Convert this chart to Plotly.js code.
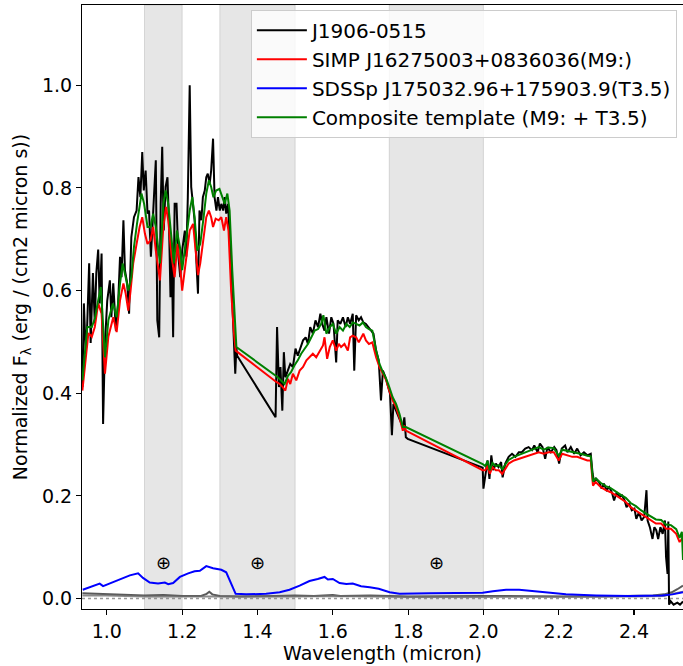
<!DOCTYPE html>
<html>
<head>
<meta charset="utf-8">
<script src="https://cdn.plot.ly/plotly-3.0.1.min.js"></script>
<style>html,body{margin:0;padding:0;background:#fff;}#chart{width:683px;height:666px;}</style>
</head>
<body>
<div id="chart"></div>
<script>
// J1906-0515 observed spectrum (black)
const objWave = [0.935,0.939,0.944,0.948,0.953,0.957,0.963,0.968,0.972,0.977,0.981,0.986,0.990,0.995,1.001,1.008,1.012,1.017,1.024,1.030,1.035,1.039,1.044,1.048,1.054,1.059,1.065,1.072,1.079,1.084,1.089,1.094,1.098,1.103,1.108,1.112,1.117,1.121,1.124,1.130,1.134,1.139,1.143,1.147,1.151,1.156,1.161,1.165,1.169,1.172,1.176,1.180,1.185,1.190,1.195,1.200,1.207,1.211,1.215,1.220,1.224,1.229,1.233,1.238,1.242,1.246,1.251,1.255,1.260,1.264,1.268,1.273,1.277,1.282,1.286,1.291,1.295,1.300,1.304,1.309,1.313,1.317,1.322,1.326,1.330,1.335,1.338,1.341,1.344,1.346,
1.448,1.452,1.457,1.461,1.466,1.470,1.474,1.481,1.487,1.494,1.501,1.507,1.514,1.521,1.528,1.534,1.540,1.547,1.554,1.561,1.567,1.572,1.578,1.583,1.590,1.596,1.602,1.609,1.613,1.620,1.627,1.634,1.640,1.646,1.653,1.657,1.662,1.669,1.675,1.681,1.688,1.695,1.702,1.708,1.715,1.722,1.728,1.733,1.740,1.746,1.752,1.757,1.761,1.768,1.775,1.781,1.786,1.790,1.794,1.799,
1.998,2.000,2.005,2.011,2.016,2.021,2.026,2.033,2.040,2.047,2.051,2.058,2.067,2.076,2.085,2.094,2.102,2.111,2.120,2.129,2.135,2.144,2.150,2.157,2.164,2.170,2.179,2.188,2.194,2.201,2.208,2.217,2.223,2.232,2.241,2.249,2.258,2.267,2.276,2.285,2.290,2.294,2.300,2.307,2.314,2.320,2.327,2.334,2.341,2.347,2.354,2.361,2.368,2.375,2.380,2.387,2.394,2.401,2.406,2.413,2.420,2.427,2.433,2.436,2.442,2.449,2.454,2.459,2.464,2.470,2.476,2.482,2.485,2.489,2.491,2.493,2.497,2.505,2.515,2.522,2.530];
const objFlux = [0.412,0.575,0.477,0.536,0.653,0.498,0.634,0.536,0.634,0.680,0.575,0.672,0.340,0.498,0.580,0.620,0.548,0.614,0.522,0.575,0.666,0.626,0.737,0.640,0.614,0.555,0.704,0.743,0.756,0.821,0.782,0.870,0.795,0.834,0.750,0.756,0.666,0.717,0.756,0.854,0.542,0.509,0.769,0.880,0.717,0.802,0.821,0.730,0.587,0.691,0.509,0.769,0.769,0.666,0.626,0.678,0.717,0.666,0.782,1.000,0.802,0.769,0.737,0.653,0.594,0.756,0.737,0.782,0.795,0.821,0.828,0.808,0.834,0.896,0.782,0.756,0.782,0.756,0.769,0.756,0.782,0.750,0.769,0.704,0.626,0.536,0.503,0.438,0.490,0.473,
0.353,0.529,0.412,0.451,0.366,0.480,0.431,0.444,0.457,0.451,0.487,0.473,0.490,0.503,0.509,0.496,0.529,0.516,0.542,0.529,0.555,0.535,0.522,0.548,0.516,0.548,0.535,0.460,0.542,0.535,0.548,0.529,0.548,0.535,0.555,0.444,0.552,0.542,0.548,0.538,0.535,0.529,0.522,0.516,0.483,0.464,0.386,0.444,0.431,0.412,0.399,0.318,0.379,0.366,0.353,0.340,0.334,0.353,0.314,0.311,
0.255,0.214,0.243,0.269,0.233,0.279,0.250,0.263,0.256,0.266,0.236,0.263,0.276,0.282,0.276,0.285,0.285,0.292,0.295,0.289,0.298,0.285,0.302,0.295,0.272,0.295,0.285,0.295,0.289,0.263,0.292,0.298,0.285,0.295,0.282,0.292,0.279,0.285,0.279,0.282,0.243,0.227,0.233,0.227,0.214,0.224,0.211,0.217,0.207,0.191,0.207,0.198,0.201,0.191,0.178,0.185,0.172,0.175,0.155,0.168,0.152,0.159,0.211,0.152,0.139,0.116,0.139,0.133,0.116,0.139,0.126,0.152,0.081,0.048,0.150,-0.012,-0.005,-0.012,-0.008,-0.012,-0.006];

// SIMP J16275003+0836036 (M9:) template (red)
const m9Wave = [0.935,0.951,0.960,0.968,0.977,0.986,0.995,1.004,1.017,1.026,1.035,1.044,1.050,1.057,1.063,1.070,1.079,1.087,1.094,1.101,1.108,1.116,1.123,1.130,1.141,1.150,1.157,1.163,1.172,1.180,1.187,1.194,1.200,1.209,1.220,1.229,1.236,1.242,1.248,1.257,1.264,1.271,1.277,1.282,1.289,1.297,1.304,1.311,1.317,1.323,1.330,1.337,1.342,
1.450,1.459,1.467,1.474,1.481,1.487,1.494,1.503,1.512,1.521,1.530,1.539,1.547,1.556,1.565,1.574,1.578,1.585,1.592,1.600,1.609,1.616,1.622,1.631,1.640,1.646,1.653,1.662,1.669,1.675,1.681,1.688,1.696,1.705,1.715,1.724,1.733,1.742,1.750,1.759,1.768,1.777,1.786,1.790,1.794,
1.998,2.005,2.011,2.017,2.024,2.033,2.041,2.050,2.059,2.067,2.081,2.094,2.107,2.120,2.134,2.147,2.160,2.173,2.187,2.200,2.209,2.223,2.236,2.249,2.263,2.276,2.285,2.291,2.298,2.312,2.325,2.338,2.352,2.365,2.378,2.391,2.405,2.418,2.431,2.445,2.458,2.472,2.485,2.498,2.512,2.521,2.530];
const m9Flux = [0.405,0.517,0.510,0.529,0.575,0.555,0.438,0.510,0.548,0.519,0.581,0.614,0.594,0.561,0.600,0.653,0.691,0.724,0.743,0.711,0.691,0.698,0.724,0.678,0.620,0.724,0.763,0.737,0.666,0.626,0.691,0.653,0.600,0.653,0.717,0.730,0.678,0.630,0.653,0.704,0.743,0.756,0.743,0.724,0.740,0.737,0.743,0.717,0.743,0.717,0.600,0.522,0.483,
0.422,0.418,0.412,0.405,0.428,0.418,0.438,0.425,0.444,0.451,0.464,0.470,0.477,0.470,0.483,0.493,0.509,0.467,0.490,0.503,0.483,0.496,0.490,0.496,0.483,0.509,0.512,0.509,0.499,0.509,0.516,0.503,0.496,0.499,0.470,0.451,0.438,0.425,0.405,0.386,0.373,0.353,0.327,0.337,0.327,
0.250,0.250,0.259,0.243,0.256,0.250,0.250,0.243,0.253,0.263,0.269,0.272,0.276,0.279,0.282,0.285,0.282,0.285,0.285,0.269,0.282,0.279,0.276,0.276,0.272,0.269,0.269,0.220,0.227,0.217,0.211,0.207,0.201,0.194,0.188,0.178,0.172,0.165,0.159,0.152,0.146,0.146,0.136,0.136,0.126,0.110,0.119];

// SDSSp J175032.96+175903.9 (T3.5) template (blue)
const t35Wave = [0.936,0.964,0.981,0.990,1.017,1.043,1.061,1.083,1.096,1.114,1.136,1.154,1.163,1.176,1.194,1.216,1.233,1.247,1.264,1.282,1.304,1.317,1.330,1.342,1.370,1.423,1.459,1.485,1.512,1.538,1.560,1.578,1.587,1.600,1.618,1.636,1.653,1.675,1.698,1.722,1.751,1.777,1.857,1.998,2.025,2.060,2.095,2.140,2.184,2.219,2.299,2.387,2.475,2.502,2.530];
const t35Flux = [0.017,0.025,0.029,0.024,0.032,0.040,0.045,0.049,0.040,0.031,0.029,0.031,0.028,0.030,0.042,0.049,0.053,0.054,0.063,0.059,0.056,0.051,0.029,0.009,0.008,0.009,0.012,0.017,0.025,0.034,0.038,0.042,0.037,0.038,0.030,0.028,0.029,0.024,0.022,0.019,0.012,0.009,0.010,0.011,0.014,0.017,0.017,0.014,0.010,0.008,0.006,0.005,0.006,0.008,0.012];

// Composite template (M9: + T3.5) (green)
const compWave = [0.935,0.948,0.960,0.968,0.977,0.984,0.995,1.004,1.016,1.026,1.035,1.042,1.050,1.057,1.065,1.072,1.080,1.087,1.092,1.099,1.108,1.116,1.123,1.130,1.141,1.150,1.156,1.163,1.172,1.178,1.186,1.194,1.200,1.209,1.220,1.227,1.233,1.240,1.248,1.257,1.264,1.271,1.277,1.283,1.290,1.299,1.306,1.313,1.320,1.326,1.333,1.339,1.344,
1.454,1.463,1.472,1.481,1.489,1.498,1.507,1.516,1.525,1.534,1.543,1.552,1.561,1.569,1.575,1.583,1.592,1.600,1.609,1.618,1.627,1.636,1.645,1.653,1.662,1.671,1.680,1.688,1.696,1.705,1.715,1.724,1.733,1.742,1.750,1.759,1.768,1.777,1.786,1.794,
1.998,2.005,2.011,2.017,2.024,2.033,2.041,2.050,2.059,2.067,2.081,2.094,2.107,2.120,2.134,2.147,2.160,2.173,2.187,2.200,2.209,2.223,2.236,2.249,2.263,2.276,2.285,2.291,2.298,2.312,2.325,2.338,2.352,2.365,2.378,2.391,2.405,2.418,2.431,2.445,2.458,2.472,2.485,2.498,2.512,2.521,2.527,2.530];
const compFlux = [0.425,0.529,0.529,0.545,0.581,0.607,0.470,0.542,0.575,0.548,0.614,0.653,0.626,0.600,0.626,0.685,0.730,0.769,0.789,0.769,0.724,0.724,0.750,0.724,0.653,0.769,0.795,0.769,0.698,0.653,0.717,0.685,0.640,0.691,0.756,0.782,0.743,0.678,0.691,0.743,0.789,0.815,0.802,0.782,0.795,0.798,0.782,0.769,0.789,0.756,0.640,0.542,0.490,
0.431,0.425,0.418,0.434,0.441,0.454,0.464,0.477,0.487,0.496,0.509,0.522,0.525,0.535,0.552,0.516,0.529,0.535,0.516,0.529,0.522,0.535,0.529,0.538,0.535,0.532,0.538,0.529,0.525,0.522,0.483,0.457,0.441,0.428,0.412,0.392,0.379,0.360,0.334,0.334,
0.262,0.258,0.268,0.250,0.264,0.258,0.260,0.252,0.262,0.270,0.276,0.280,0.284,0.288,0.292,0.295,0.290,0.294,0.293,0.278,0.290,0.288,0.285,0.284,0.281,0.278,0.277,0.228,0.234,0.225,0.219,0.215,0.209,0.202,0.196,0.186,0.180,0.172,0.166,0.160,0.154,0.153,0.144,0.143,0.135,0.118,0.130,0.075];

// uncertainty curves (grey)
const errWaveA = [0.935,0.970,1.000,1.050,1.100,1.150,1.200,1.250,1.265,1.272,1.280,1.300,1.350,1.450,1.500,1.550,1.600,1.620,1.700,1.750,1.800,2.000,2.100,2.200,2.300,2.400,2.450,2.480,2.500,2.515,2.530];
const errFluxA = [0.010,0.009,0.008,0.007,0.006,0.007,0.005,0.005,0.009,0.013,0.008,0.005,0.004,0.005,0.006,0.005,0.007,0.005,0.006,0.005,0.004,0.005,0.004,0.004,0.004,0.005,0.006,0.008,0.012,0.018,0.025];
const errWaveB = [0.935,1.000,1.100,1.200,1.300,1.400,1.500,1.600,1.700,1.800,2.000,2.200,2.400,2.480,2.500,2.530];
const errFluxB = [0.006,0.006,0.004,0.004,0.004,0.003,0.004,0.005,0.004,0.003,0.003,0.003,0.004,0.005,0.009,0.013];

// telluric bands and their markers
const bandStart = [1.10, 1.30, 1.75];
const bandEnd = [1.20, 1.50, 2.00];
const markerX = [1.15, 1.40, 1.875];
const markerY = 0.07;

const names = ['J1906-0515','SIMP J16275003+0836036(M9:)','SDSSp J175032.96+175903.9(T3.5)','Composite template (M9: + T3.5)'];

const FONT = 'DejaVu Sans, sans-serif';

const traces = [
  {x: errWaveA, y: errFluxA, mode:'lines', line:{color:'rgba(60,60,60,0.85)', width:2}, showlegend:false, hoverinfo:'skip'},
  {x: errWaveB, y: errFluxB, mode:'lines', line:{color:'rgba(110,110,110,0.8)', width:2}, showlegend:false, hoverinfo:'skip'},
  {x: objWave, y: objFlux, mode:'lines', name:names[0], line:{color:'#000000', width:2}},
  {x: m9Wave, y: m9Flux, mode:'lines', name:names[1], line:{color:'#ff0000', width:2}},
  {x: t35Wave, y: t35Flux, mode:'lines', name:names[2], line:{color:'#0000ff', width:2}},
  {x: compWave, y: compFlux, mode:'lines', name:names[3], line:{color:'#008000', width:2}}
];

const shapes = bandStart.map((s,i)=>({type:'rect', xref:'x', yref:'paper', x0:s, x1:bandEnd[i], y0:0, y1:1,
  fillcolor:'rgba(128,128,128,0.2)', line:{color:'rgba(128,128,128,0.25)', width:1}, layer:'below'}));
shapes.push({type:'line', xref:'paper', yref:'y', x0:0, x1:1, y0:0, y1:0, line:{color:'rgba(128,128,128,0.8)', width:1.5, dash:'dot'}, layer:'below'});

const annotations = markerX.map(x=>({x:x, y:markerY, xref:'x', yref:'y', text:'⊕', showarrow:false,
  font:{family:FONT, size:18, color:'#000'}}));

const layout = {
  width:683, height:666,
  margin:{l:82, r:0, t:5, b:57},
  paper_bgcolor:'#ffffff', plot_bgcolor:'#ffffff',
  font:{family:FONT, size:19, color:'#000'},
  showlegend:true,
  legend:{x:0.281, y:0.992, xanchor:'left', yanchor:'top', bgcolor:'rgba(255,255,255,0.8)', bordercolor:'#cccccc', borderwidth:1,
    font:{family:FONT, size:20, color:'#000'}, itemwidth:50},
  xaxis:{range:[0.934, 2.53], tickmode:'array', tickvals:[1.0,1.2,1.4,1.6,1.8,2.0,2.2,2.4], ticktext:['1.0','1.2','1.4','1.6','1.8','2.0','2.2','2.4'],
    ticks:'outside', ticklen:5, tickwidth:1.1, tickcolor:'#000', showline:true, linecolor:'#000', linewidth:1.1, mirror:true,
    showgrid:false, zeroline:false, tickfont:{family:FONT, size:19},
    title:{text:'Wavelength (micron)', font:{family:FONT, size:19}, standoff:0}},
  yaxis:{range:[-0.0205, 1.1565], tickmode:'array', tickvals:[0,0.2,0.4,0.6,0.8,1.0], ticktext:['0.0','0.2','0.4','0.6','0.8','1.0'],
    ticks:'outside', ticklen:5, tickwidth:1.1, tickcolor:'#000', showline:true, linecolor:'#000', linewidth:1.1, mirror:false,
    showgrid:false, zeroline:false, tickfont:{family:FONT, size:19},
    title:{text:'Normalized F<sub>λ</sub> (erg / (cm2 micron s))', font:{family:FONT, size:19}, standoff:9}},
  shapes:shapes,
  annotations:annotations
};

Plotly.newPlot('chart', traces, layout, {displayModeBar:false, staticPlot:true});
</script>
</body>
</html>
